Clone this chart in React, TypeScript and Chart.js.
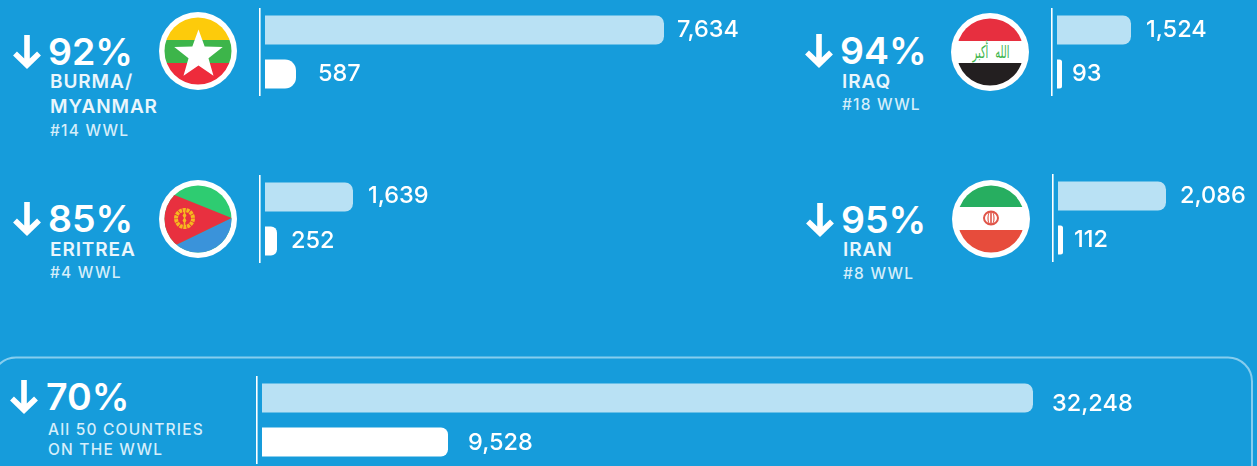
import React, { useEffect, useRef } from "react";
import { Chart, registerables } from "chart.js";

Chart.register(...registerables);

// ---- data ----
const seriesLabels = ["Earlier period", "Latest period"];
const panelKeys = ["burma", "eritrea", "iraq", "iran", "all"];
const earlierCounts = [7634, 1639, 1524, 2086, 32248];
const latestCounts = [587, 252, 93, 112, 9528];
const declines = ["92%", "85%", "94%", "95%", "70%"];
const nameLines = [["BURMA/", "MYANMAR"], ["ERITREA"], ["IRAQ"], ["IRAN"], []];
const rankLines = [["#14 WWL"], ["#4 WWL"], ["#18 WWL"], ["#8 WWL"], ["All 50 COUNTRIES", "ON THE WWL"]];

// ---- layout ----
const BG = "#169CDB";
const LIGHT = "#B9E1F4";
const FONT = "Inter, 'Noto Sans', sans-serif";
const layouts = [
  { axisX: 260, top: 7.5, width: 530, endA: 664, endB: 296, gapA: 13, gapB: 22, dyA: -1, dyB: -1, radB: 11, tx: 48, arrowX: 27, pctY: 65, nameY: [88, 113], rankY: [136] },
  { axisX: 260, top: 174.5, width: 530, endA: 353, endB: 277, gapA: 15, gapB: 14, dyA: -2, dyB: -1, radB: 12, tx: 48, arrowX: 27, pctY: 232, nameY: [256], rankY: [278] },
  { axisX: 1052, top: 7.5, width: 204, endA: 1131, endB: 1062, gapA: 15, gapB: 10, dyA: -1, dyB: -1, radB: 8, tx: 840, arrowX: 819, pctY: 64, nameY: [88], rankY: [110] },
  { axisX: 1053, top: 174, width: 203, endA: 1166, endB: 1063, gapA: 14, gapB: 11, dyA: -1, dyB: -1, radB: 8, tx: 841, arrowX: 820, pctY: 233, nameY: [256], rankY: [279] },
  { axisX: 257, top: 375.5, width: 960, endA: 1033, endB: 448, gapA: 19, gapB: 20, dyA: 5, dyB: 0, radB: 7, tx: 46, arrowX: 24, pctY: 410, nameY: [], rankY: [435, 455] },
];

const BAR_INSET = 5;
const PAD = 2;

const valueLabels = {
  id: "valueLabels",
  afterDatasetsDraw(chart: any, _a: any, opts: any) {
    const { ctx } = chart;
    ctx.save();
    ctx.font = `500 23.5px ${FONT}`;
    ctx.fillStyle = "#ffffff";
    ctx.textAlign = "left";
    ctx.textBaseline = "middle";
    chart.data.datasets.forEach((ds: any, d: number) => {
      const idx = ds.data.findIndex((v: any) => v !== null);
      const el = chart.getDatasetMeta(d).data[idx];
      ctx.fillText(ds.data[idx].toLocaleString("en-US"), el.x + opts.gaps[d], el.y + 1 + opts.shifts[d]);
    });
    ctx.restore();
  },
};

function Panel({ index }: { index: number }) {
  const ref = useRef<HTMLCanvasElement>(null);
  const l = layouts[index];
  useEffect(() => {
    const plot = l.width - PAD;
    const scaleFor = (value: number, end: number) => {
      const perPx = value / (end - l.axisX - BAR_INSET);
      return { display: false, min: -BAR_INSET * perPx, max: (plot - BAR_INSET) * perPx };
    };
    const corner = (r: number) => ({ topRight: r, bottomRight: r, topLeft: 0, bottomLeft: 0 });
    const chart = new Chart(ref.current as HTMLCanvasElement, {
      type: "bar",
      plugins: [valueLabels],
      data: {
        labels: seriesLabels,
        datasets: [
          { label: seriesLabels[0], data: [earlierCounts[index], null], xAxisID: "x", backgroundColor: LIGHT, borderRadius: corner(8), borderSkipped: false, inflateAmount: 0 },
          { label: seriesLabels[1], data: [null, latestCounts[index]], xAxisID: "x2", backgroundColor: "#ffffff", borderRadius: corner(l.radB), borderSkipped: false, inflateAmount: 0 },
        ],
      } as any,
      options: {
        indexAxis: "y",
        responsive: false,
        animation: false,
        layout: { padding: { left: PAD, right: 0, top: 0, bottom: 0 } },
        datasets: { bar: { grouped: false, barThickness: 29 } },
        scales: {
          x: scaleFor(earlierCounts[index], l.endA),
          x2: { axis: "x", ...scaleFor(latestCounts[index], l.endB) },
          y: {
            display: true,
            grid: { display: false, drawTicks: false },
            ticks: { display: false },
            border: { display: true, color: "#ffffff", width: 1.6 },
          },
        },
        plugins: {
          legend: { display: false },
          tooltip: { enabled: false },
          valueLabels: { gaps: [l.gapA, l.gapB], shifts: [l.dyA, l.dyB] },
        },
      } as any,
    });
    return () => chart.destroy();
  }, []);
  return (
    <canvas
      ref={ref}
      data-panel={panelKeys[index]}
      width={l.width}
      height={88}
      style={{ position: "absolute", left: l.axisX - PAD, top: l.top, width: l.width, height: 88 }}
    />
  );
}

function Arrow({ x, y }: { x: number; y: number }) {
  return (
    <path
      d={`M${x} ${y} V${y + 30} M${x - 12} ${y + 18.5} L${x} ${y + 30} L${x + 12} ${y + 18.5}`}
      fill="none"
      stroke="#fff"
      strokeWidth={5.6}
    />
  );
}

function Burma() {
  const cx = 198.5, cy = 55, R = 25.5, r = 10.5;
  const pts = Array.from({ length: 10 }, (_, i) => {
    const a = -Math.PI / 2 + (i * Math.PI) / 5;
    const q = i % 2 ? r : R;
    return `${cx + q * Math.cos(a)},${cy + q * Math.sin(a)}`;
  }).join(" ");
  return (
    <g clipPath="url(#c0)">
      <rect x="155" y="10" width="90" height="30" fill="#FDCB0B" />
      <rect x="155" y="40" width="90" height="23" fill="#3DB54A" />
      <rect x="155" y="63" width="90" height="30" fill="#EE2B3B" />
      <polygon points={pts} fill="#fff" />
    </g>
  );
}

function Eritrea() {
  return (
    <g clipPath="url(#c1)">
      <rect x="155" y="175" width="90" height="90" fill="#2ECC71" />
      <polygon points="231.6,218 155,255 245,255 245,218" fill="#3A93DA" />
      <polygon points="155,187 231.6,218 155,255" fill="#E8303F" />
      <circle cx="184.5" cy="218.5" r="8.5" fill="none" stroke="#F6B81F" strokeWidth="4" strokeDasharray="3 0.8" />
      <rect x="183.7" y="212" width="1.6" height="13" fill="#F6B81F" />
      <circle cx="184.5" cy="215.5" r="1.8" fill="#F6B81F" />
      <circle cx="184.5" cy="220.5" r="1.8" fill="#F6B81F" />
    </g>
  );
}

function Iraq() {
  return (
    <g clipPath="url(#c2)">
      <rect x="945" y="10" width="90" height="31" fill="#E72F3F" />
      <rect x="945" y="41" width="90" height="22" fill="#fff" />
      <rect x="945" y="63" width="90" height="30" fill="#231F20" />
      <text transform="translate(991 58) scale(0.62 1.1)" textAnchor="middle" fontFamily="'DejaVu Sans'" fontSize="16" fill="#3DB54A" wordSpacing="6">الله أكبر</text>
    </g>
  );
}

function Iran() {
  return (
    <g clipPath="url(#c3)">
      <rect x="945" y="175" width="90" height="32" fill="#27AE60" />
      <rect x="945" y="207" width="90" height="23" fill="#fff" />
      <rect x="945" y="230" width="90" height="35" fill="#E74C3C" />
      <ellipse cx="991" cy="218" rx="7" ry="6.5" fill="none" stroke="#E0564A" strokeWidth="2" />
      <ellipse cx="991" cy="218" rx="3" ry="6.5" fill="none" stroke="#E0564A" strokeWidth="1.2" />
      <rect x="990.2" y="211" width="1.6" height="14" fill="#E0564A" />
    </g>
  );
}

const flagSpots = [
  { cx: 198, cy: 51, Flag: Burma },
  { cx: 198, cy: 219, Flag: Eritrea },
  { cx: 990, cy: 52, Flag: Iraq },
  { cx: 991, cy: 219, Flag: Iran },
];

export default function App() {
  return (
    <div style={{ position: "fixed", left: 0, top: 0, width: 1257, height: 466, overflow: "hidden", background: BG }}>
      <svg width={1257} height={466} style={{ position: "absolute", left: 0, top: 0 }} fontFamily={FONT}>
        <defs>
          {flagSpots.map((f, i) => (
            <clipPath id={`c${i}`} key={i}>
              <circle cx={f.cx} cy={f.cy} r={33.5} />
            </clipPath>
          ))}
        </defs>
        <rect x={-8} y={357.5} width={1260} height={140} rx={24} fill="none" stroke="#86CDEE" strokeWidth={2} />
        {flagSpots.map((f, i) => (
          <g key={i}>
            <circle cx={f.cx} cy={f.cy} r={39} fill="#fff" />
            <f.Flag />
          </g>
        ))}
        {layouts.map((l, i) => (
          <g key={i}>
            <Arrow x={l.arrowX} y={l.pctY - 30} />
            <text x={l.tx} y={l.pctY} fill="#fff" fontSize={37.5} fontWeight={600}>{declines[i]}</text>
            {nameLines[i].map((t, j) => (
              <text key={j} x={l.tx + 2} y={l.nameY[j]} fill="#EAF6FC" fontSize={19} fontWeight={600} letterSpacing={0.9}>{t}</text>
            ))}
            {rankLines[i].map((t, j) => (
              <text key={j} x={l.tx + 2} y={l.rankY[j]} fill="#D5EEFA" fontSize={15.5} fontWeight={500} letterSpacing={1.2}>{t}</text>
            ))}
          </g>
        ))}
      </svg>
      {layouts.map((_, i) => (
        <Panel key={i} index={i} />
      ))}
    </div>
  );
}
